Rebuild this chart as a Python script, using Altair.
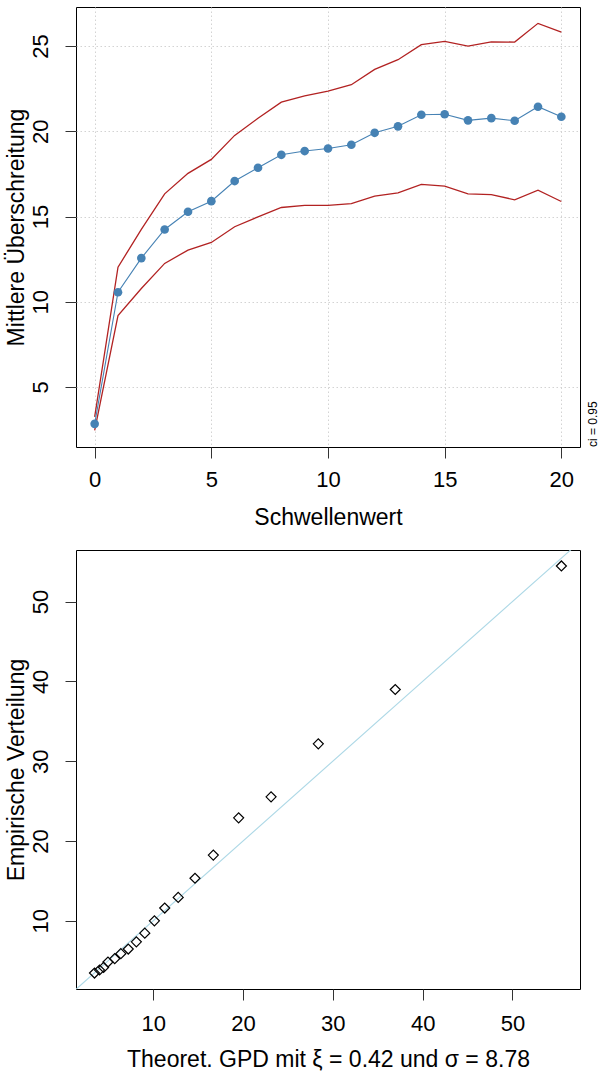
import altair as alt
import pandas as pd

# ---------------- data: mean residual life plot ----------------
thresholds = list(range(21))
mean_excess = [2.84, 10.56, 12.56, 14.24, 15.28, 15.90, 17.08, 17.86, 18.62, 18.84,
               18.99, 19.21, 19.91, 20.29, 20.97, 21.00, 20.64, 20.77, 20.62, 21.44, 20.85]
ci_upper = [3.25, 12.03, 14.24, 16.33, 17.53, 18.35, 19.76, 20.76, 21.71, 22.07,
            22.36, 22.73, 23.63, 24.20, 25.08, 25.27, 25.00, 25.25, 25.23, 26.33, 25.82]
ci_lower = [2.45, 9.19, 10.78, 12.25, 13.03, 13.48, 14.40, 14.98, 15.53, 15.65,
            15.65, 15.75, 16.20, 16.39, 16.88, 16.78, 16.33, 16.29, 15.98, 16.55, 15.88]

# ---------------- data: GPD QQ plot ----------------
qq_theoretical = [3.46, 4.02, 4.47, 4.96, 5.71, 6.39, 7.22, 8.12, 9.06, 10.13, 11.28,
                  12.78, 14.65, 16.69, 19.51, 23.12, 28.38, 36.95, 55.45]
qq_empirical = [3.44, 3.82, 4.15, 4.82, 5.24, 5.87, 6.45, 7.35, 8.44, 9.98, 11.59,
                12.92, 15.32, 18.23, 22.90, 25.53, 32.17, 38.98, 54.47]
ref_line = [0, 60]

FONT = "Liberation Sans"
W = 504
H_TOP = 440
H_BOT = 439

top_df = pd.DataFrame({"x": thresholds, "mean": mean_excess,
                       "upper": ci_upper, "lower": ci_lower})

xs_top = alt.Scale(domain=[-0.8, 20.8], nice=False, zero=False)
ys_top = alt.Scale(domain=[1.48, 27.29], nice=False, zero=False)

grid_kw = dict(grid=True, gridColor="#d3d3d3", gridDash=[1.5, 2.5], gridWidth=1)

x_top_axis = alt.Axis(values=[0, 5, 10, 15, 20], title="Schwellenwert",
                      labelPadding=11, titlePadding=16, **grid_kw)
y_top_axis = alt.Axis(values=[5, 10, 15, 20, 25], title="Mittlere Überschreitung",
                      labelAngle=270, labelAlign="center", labelBaseline="alphabetic",
                      labelPadding=18, titlePadding=1, **grid_kw)

base_top = alt.Chart(top_df)
upper_line = base_top.mark_line(color="#B22222", strokeWidth=1.3).encode(
    x=alt.X("x:Q", scale=xs_top, axis=x_top_axis),
    y=alt.Y("upper:Q", scale=ys_top, axis=y_top_axis))
lower_line = base_top.mark_line(color="#B22222", strokeWidth=1.3).encode(
    x=alt.X("x:Q", scale=xs_top), y=alt.Y("lower:Q", scale=ys_top))
mean_line = base_top.mark_line(color="#4682B4", strokeWidth=1.1).encode(
    x=alt.X("x:Q", scale=xs_top), y=alt.Y("mean:Q", scale=ys_top))
mean_pts = base_top.mark_circle(color="#4682B4", size=75, opacity=1).encode(
    x=alt.X("x:Q", scale=xs_top), y=alt.Y("mean:Q", scale=ys_top))
ci_text = alt.Chart(pd.DataFrame({"t": ["ci = 0.95"]})).mark_text(
    angle=270, align="left", baseline="middle", fontSize=12, font=FONT, color="black"
).encode(x=alt.value(W + 12.5), y=alt.value(H_TOP), text="t:N")

top = alt.layer(upper_line, lower_line, mean_line, mean_pts, ci_text).properties(
    width=W, height=H_TOP)

qq_df = pd.DataFrame({"theo": qq_theoretical, "emp": qq_empirical})
line_df = pd.DataFrame({"a": ref_line, "b": ref_line})

xs_bot = alt.Scale(domain=[1.40, 57.52], nice=False, zero=False)
ys_bot = alt.Scale(domain=[1.44, 56.47], nice=False, zero=False)

x_bot_axis = alt.Axis(values=[10, 20, 30, 40, 50],
                      title="Theoret. GPD mit ξ = 0.42 und σ = 8.78",
                      labelPadding=13, titlePadding=14, grid=False)
y_bot_axis = alt.Axis(values=[10, 20, 30, 40, 50], title="Empirische Verteilung",
                      labelAngle=270, labelAlign="center", labelBaseline="alphabetic",
                      labelPadding=18, titlePadding=1, grid=False)

ref = alt.Chart(line_df).mark_line(color="#ADD8E6", strokeWidth=1.1, clip=True).encode(
    x=alt.X("a:Q", scale=xs_bot, axis=x_bot_axis),
    y=alt.Y("b:Q", scale=ys_bot, axis=y_bot_axis))
pts = alt.Chart(qq_df).mark_point(shape="diamond", filled=False, color="black",
                                  size=100, strokeWidth=1.2, opacity=1).encode(
    x=alt.X("theo:Q", scale=xs_bot), y=alt.Y("emp:Q", scale=ys_bot))

bottom = alt.layer(ref, pts).properties(width=W, height=H_BOT)

chart = alt.vconcat(top, bottom, spacing=103, bounds="flush").properties(
    padding={"left": 4, "top": 6, "right": 0, "bottom": 2},
    background="white"
).configure_view(stroke="black", strokeWidth=1).configure_axis(
    labelFont=FONT, labelFontSize=22, labelColor="black",
    titleFont=FONT, titleFontSize=23, titleFontWeight="normal", titleColor="black",
    tickSize=11, tickColor="#333333", tickWidth=1, domain=False,
    labelFlush=False, labelOverlap=False
)

chart.save("out.html", embed_options={"renderer": "svg", "actions": False})
